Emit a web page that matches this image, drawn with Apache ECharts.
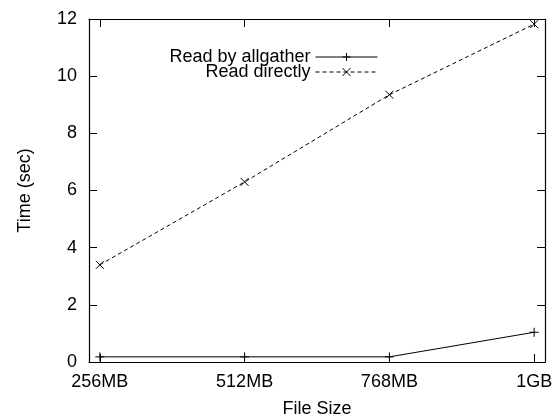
<!DOCTYPE html>
<html>
<head>
<meta charset="utf-8">
<script src="https://cdn.jsdelivr.net/npm/echarts@6/dist/echarts.min.js"></script>
<style>
  html, body { margin: 0; padding: 0; background: #fff; }
  #chart { width: 560px; height: 417px; }
</style>
</head>
<body>
<div id="chart"></div>
<script>
// file sizes on the x axis
const sizes = ['256MB', '512MB', '768MB', '1GB'];
// times in seconds
const allgather = [0.18, 0.18, 0.18, 1.04];
const direct = [3.4, 6.3, 9.35, 11.82];
const yTicks = [0, 2, 4, 6, 8, 10, 12];

const font = 'Liberation Sans, Arial, sans-serif';
const fs = 18;
const plus = 'path://M0,5L10,5M5,0L5,10';
const cross = 'path://M0,0L10,10M10,0L0,10';

const chart = echarts.init(document.getElementById('chart'));

const xBase = {
    type: 'value',
    min: -0.075,
    max: 3.075,
    splitLine: { show: false },
    axisLine: { show: true, onZero: false, lineStyle: { color: '#000', width: 1.2 } },
    axisTick: { show: true, inside: true, length: 8, customValues: [0, 1, 2, 3], lineStyle: { color: '#000' } }
};
const yBase = {
    type: 'value',
    min: 0,
    max: 12,
    interval: 2,
    splitLine: { show: false },
    axisLine: { show: true, onZero: false, lineStyle: { color: '#000', width: 1.2 } },
    axisTick: { show: true, inside: true, length: 8, customValues: yTicks, lineStyle: { color: '#000' } }
};

const legendBase = {
    right: 182,
    align: 'right',
    padding: 0,
    itemWidth: 62, itemHeight: 10,
    lineStyle: { width: 1 },
    itemStyle: { borderWidth: 1 },
    textStyle: { fontSize: fs, color: '#000', fontFamily: font }
};

const option = {
    animation: false,
    backgroundColor: '#fff',
    textStyle: { fontFamily: font, color: '#000' },
    grid: { left: 89, right: 15, top: 19, bottom: 55, outerBoundsMode: 'none' },
    legend: [
        Object.assign({}, legendBase, { data: ['Read by allgather'], top: 48 }),
        Object.assign({}, legendBase, { data: ['Read directly'], top: 63 })
    ],
    xAxis: [
        Object.assign({}, xBase, {
            position: 'bottom',
            name: 'File Size',
            nameLocation: 'middle',
            nameGap: 38,
            nameTextStyle: { fontSize: fs, color: '#000', fontFamily: font },
            axisLabel: {
                customValues: [0, 1, 2, 3],
                formatter: v => sizes[Math.round(v)],
                fontSize: fs, color: '#000', fontFamily: font, margin: 11
            }
        }),
        Object.assign({}, xBase, { position: 'top', axisLabel: { show: false } })
    ],
    yAxis: [
        Object.assign({}, yBase, {
            position: 'left',
            name: 'Time (sec)',
            nameLocation: 'middle',
            nameGap: 55,
            nameTextStyle: { fontSize: fs, color: '#000', fontFamily: font },
            axisLabel: { fontSize: fs, color: '#000', fontFamily: font, margin: 12 }
        }),
        Object.assign({}, yBase, { position: 'right', axisLabel: { show: false } })
    ],
    series: [
        {
            name: 'Read by allgather',
            type: 'line',
            data: allgather.map((v, i) => [i, v]),
            symbol: plus,
            symbolSize: 9,
            itemStyle: { color: '#000', borderColor: '#000', borderWidth: 1 },
            lineStyle: { color: '#000', width: 1 }
        },
        {
            name: 'Read directly',
            type: 'line',
            data: direct.map((v, i) => [i, v]),
            symbol: cross,
            symbolSize: 8,
            itemStyle: { color: '#000', borderColor: '#000', borderWidth: 1 },
            lineStyle: { color: '#000', width: 1, type: [4, 3] }
        }
    ]
};

chart.setOption(option);
</script>
</body>
</html>
